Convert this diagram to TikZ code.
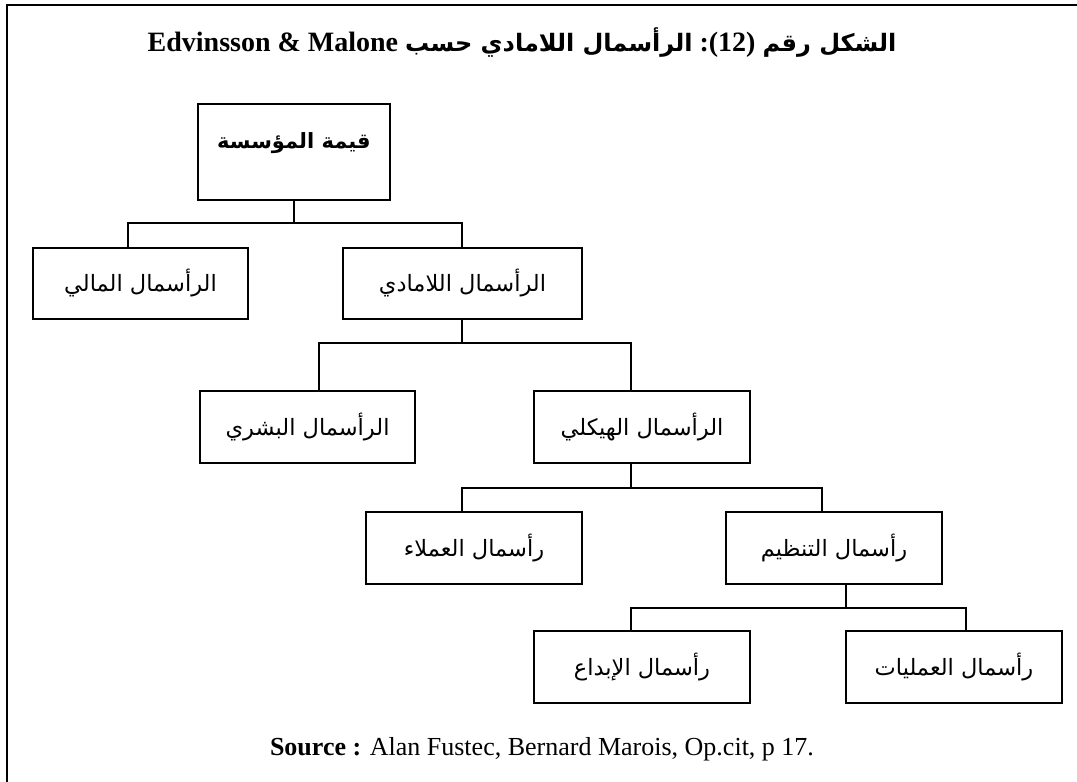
\documentclass[tikz,border=0pt]{standalone}
\usepackage{fontspec}
\setmainfont{Liberation Serif}
\newfontfamily\arabicfont[Script=Arabic]{DejaVu Sans}
\TeXXeTstate=1
\begin{document}
\begin{tikzpicture}[x=1pt,y=-1pt,
  box/.style={draw, line width=1.6pt, inner sep=0pt, minimum width=216pt, minimum height=72pt,
    font=\arabicfont\fontsize{22.5}{26}\selectfont},
  link/.style={line width=1.5pt},
  frame/.style={line width=2.4pt}]
\useasboundingbox (0,0) rectangle (1077,782);

% outer frame (only top and left edges fall inside the page)
\coordinate (fc) at (7,5);
\coordinate (ftr) at (1077,5);
\coordinate (fbl) at (7,782);
\draw[frame] (fbl) -- (fc) -- (ftr);

% title
\node[font=\bfseries\fontsize{28}{32}\selectfont] (title) at (522,43)
  {\beginR{\arabicfont\fontsize{24}{28}\selectfont الشكل رقم} \beginL:(12)\endL{} {\arabicfont\fontsize{24}{28}\selectfont الرأسمال اللامادي حسب} \beginL Edvinsson \& Malone\endL\endR};

% tree boxes
\node[box, minimum width=192pt, minimum height=96pt] (root) at (294,152) {};
\node[font=\arabicfont\bfseries\fontsize{21}{25}\selectfont] (roottext) at (294,143) {\beginR قيمة المؤسسة\endR};

\node[box, minimum width=215pt, minimum height=71pt] (mali) at (140.5,283.5) {\beginR الرأسمال المالي\endR};
\node[box, minimum width=239pt, minimum height=71pt] (lamadi) at (462.5,283.5) {\beginR الرأسمال اللامادي\endR};

\node[box, minimum width=215pt] (bashari) at (307.5,427) {\beginR الرأسمال البشري\endR};
\node[box] (haykali) at (642,427) {\beginR الرأسمال الهيكلي\endR};

\node[box] (umala) at (474,548) {\beginR رأسمال العملاء\endR};
\node[box] (tanzim) at (834,548) {\beginR رأسمال التنظيم\endR};

\node[box] (ibda) at (642,667) {\beginR رأسمال الإبداع\endR};
\node[box] (amaliyat) at (954,667) {\beginR رأسمال العمليات\endR};

% connectors
\coordinate (j1) at (294,223);
\draw[link] (root.south -| j1) -- (j1);
\draw[link] (mali.north -| 128,0) |- (j1) -| (lamadi.north -| 462,0);

\coordinate (j2) at (462,343);
\draw[link] (lamadi.south -| j2) -- (j2);
\draw[link] (bashari.north -| 319,0) |- (j2) -| (haykali.north -| 631,0);

\coordinate (j3) at (631,488);
\draw[link] (haykali.south -| j3) -- (j3);
\draw[link] (umala.north -| 462,0) |- (j3) -| (tanzim.north -| 822,0);

\coordinate (j4) at (846,608);
\draw[link] (tanzim.south -| j4) -- (j4);
\draw[link] (ibda.north -| 631,0) |- (j4) -| (amaliyat.north -| 966,0);

% source line
\node[font=\fontsize{26}{30}\selectfont] (source) at (542,749)
  {\textbf{Source :} Alan Fustec, Bernard Marois, Op.cit, p 17.};
\end{tikzpicture}
\end{document}
